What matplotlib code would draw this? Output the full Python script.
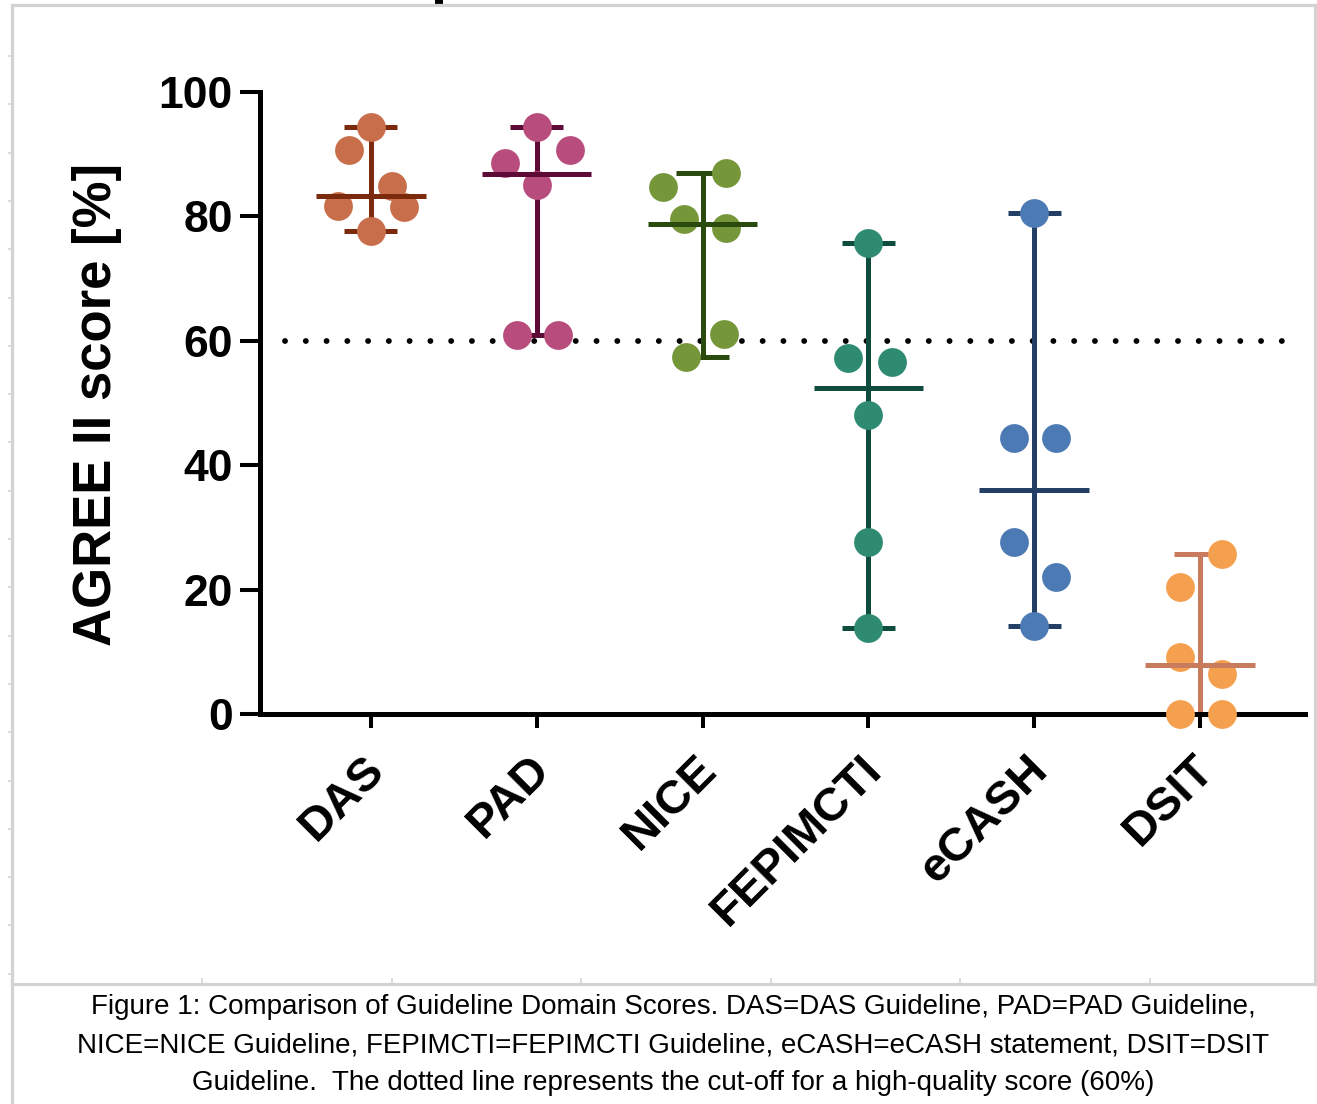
"""
AGREE II domain scores per guideline: median with range, individual domains as dots.
Reproduced as a figure snippet with its caption underneath.
"""
import matplotlib
matplotlib.use("Agg")
import matplotlib.pyplot as plt
from matplotlib.lines import Line2D
from matplotlib.patches import Rectangle
from matplotlib.transforms import ScaledTranslation
import numpy as np

plt.rcParams["font.family"] = ["Liberation Sans", "DejaVu Sans"]

# --- data ----------------------------------------------------------------
GUIDELINES = ["DAS", "PAD", "NICE", "FEPIMCTI", "eCASH", "DSIT"]
DAS = [94.4, 90.7, 84.9, 81.7, 81.5, 77.7]
PAD = [94.4, 90.7, 88.6, 85.0, 60.9, 60.9]
NICE = [87.0, 84.7, 79.6, 78.1, 61.1, 57.4]
FEPIMCTI = [75.7, 57.2, 56.6, 48.1, 27.7, 13.8]
ECASH = [80.5, 44.4, 44.4, 27.7, 22.0, 14.1]
DSIT = [25.7, 20.4, 9.2, 6.4, 0.0, 0.0]
SCORES = [DAS, PAD, NICE, FEPIMCTI, ECASH, DSIT]
CUTOFF = 60
Y_TICKS = [0, 20, 40, 60, 80, 100]
Y_LABEL = "AGREE II score [%]"
CAPTION = [
    "Figure 1: Comparison of Guideline Domain Scores. DAS=DAS Guideline, PAD=PAD Guideline,",
    "NICE=NICE Guideline, FEPIMCTI=FEPIMCTI Guideline, eCASH=eCASH statement, DSIT=DSIT",
    "Guideline.  The dotted line represents the cut-off for a high-quality score (60%)",
]

# --- styling -----------------------------------------------------------------
POINT_COLORS = ["#c86e4b", "#b84c7c", "#76963a", "#2e8b72", "#4c7ab5", "#f5a04e"]
LINE_COLORS = ["#7b2a0e", "#5e0a36", "#2b4a0e", "#0e4c3e", "#243f66", "#c97c5d"]
# horizontal scatter of the dots (in category widths), as laid out in the original
JITTER = [
    [0, -0.13, 0.13, -0.20, 0.20, 0],
    [0, 0.20, -0.19, 0, -0.12, 0.13],
    [0.14, -0.24, -0.11, 0.14, 0.13, -0.10],
    [0, -0.12, 0.14, 0, 0, 0],
    [0, -0.12, 0.13, -0.12, 0.13, 0],
    [0.13, -0.12, -0.12, 0.13, -0.12, 0.13],
]
FRAME_GREY = "#d3d3d3"

W, H = 1317, 1104


def fx(x):
    return x / W


def fy(y):
    return 1 - y / H


fig = plt.figure(figsize=(W / 100, H / 100), dpi=100)
ax = fig.add_axes([fx(260), fy(714), (1305 - 260) / W, (714 - 92) / H])

LW = 3.6
for i, (vals, pc, lc, jit) in enumerate(zip(SCORES, POINT_COLORS, LINE_COLORS, JITTER)):
    vals = np.asarray(vals)
    lo, hi, med = vals.min(), vals.max(), np.median(vals)
    ax.vlines(i, lo, hi, color=lc, lw=LW, zorder=2, clip_on=False)
    ax.hlines([lo, hi], i - 0.16, i + 0.16, color=lc, lw=LW, zorder=2, clip_on=False)
    ax.scatter(i + np.asarray(jit), vals, s=430, color=pc, linewidths=0,
               zorder=3, clip_on=False)
    ax.hlines(med, i - 0.33, i + 0.33, color=lc, lw=LW, zorder=4)

ax.axhline(CUTOFF, xmin=0.024, xmax=0.992, color="black", lw=4.2,
           dashes=(0.01, 3.55), dash_capstyle="round", zorder=1)

ax.set_xlim(-0.669, 5.633)
ax.set_ylim(0, 100)
ax.set_yticks(Y_TICKS)
ax.set_yticklabels([str(t) for t in Y_TICKS], fontsize=32, fontweight="bold")
ax.set_xticks(range(len(GUIDELINES)))
ax.set_xticklabels([])

# rotated category labels, end of each word just below its tick
label_tf = ax.get_xaxis_transform() + ScaledTranslation(0.07, -0.49, fig.dpi_scale_trans)
for i, name in enumerate(GUIDELINES):
    ax.text(i, 0, name, transform=label_tf, fontsize=34, fontweight="bold",
            rotation=45, ha="right", va="center", rotation_mode="anchor")

for side in ("top", "right"):
    ax.spines[side].set_visible(False)
for side in ("left", "bottom"):
    ax.spines[side].set_linewidth(LW)
    ax.spines[side].set_zorder(2.5)
ax.tick_params(axis="y", length=14.5, width=2.9, pad=5, direction="out")
ax.tick_params(axis="x", length=10, width=2.9, direction="out")

fig.text(fx(97), fy(404), Y_LABEL, rotation=90, ha="center", va="center",
         fontsize=38, fontweight="bold")

# --- page frame around the figure ----------------------------------------
def frame_line(x0, y0, x1, y1, lw=2.3):
    fig.add_artist(Line2D([fx(x0), fx(x1)], [fy(y0), fy(y1)],
                          transform=fig.transFigure, color=FRAME_GREY, lw=lw))


frame_line(12, 5, W, 5)
frame_line(12, 5, 12, H)
frame_line(1315, 5, 1315, 984)
frame_line(12, 984, W, 984)
for y in np.arange(56, 980, 48.3):
    frame_line(9, y, 12, y, lw=1.2)
for x in [202, 392, 581, 771, 960, 1150]:
    frame_line(x, 984, x, 979, lw=1.2)

# descender of the cut-off title above the frame
fig.add_artist(Rectangle((fx(435), fy(5)), 8 / W, 5 / H, transform=fig.transFigure,
                         color="black", lw=0))

for text, base in zip(CAPTION, [1014, 1052, 1090]):
    fig.text(fx(673), fy(base), text, ha="center", va="baseline", fontsize=20)

fig.savefig("out.png", dpi=100)
